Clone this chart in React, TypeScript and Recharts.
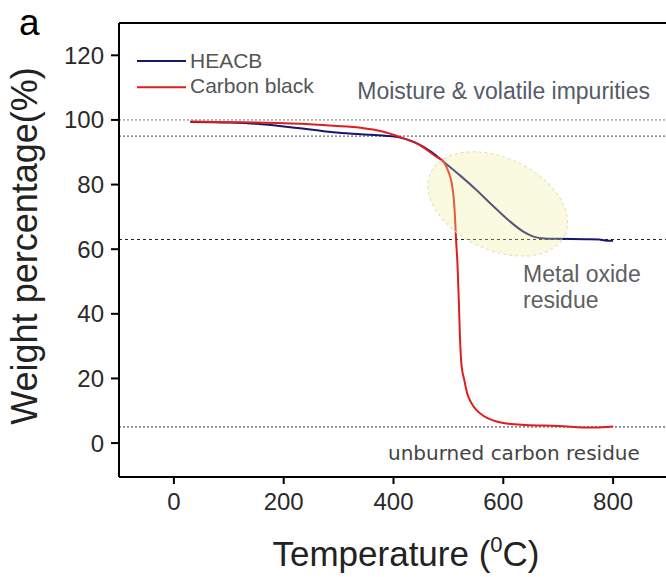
import {
  LineChart,
  Line,
  XAxis,
  YAxis,
  ReferenceLine,
  ReferenceDot,
  Legend,
  Label,
} from "recharts";

// TGA curves, temperature (°C) vs remaining weight (%)
const heacbTemp = [30, 100, 150, 200, 230, 260, 290, 340, 385, 410, 440, 470, 491, 520, 550, 580, 610, 635, 655, 675, 700, 750, 775, 785, 800];
const heacbWeight = [99.4, 99.2, 98.8, 98.0, 97.4, 96.8, 96.2, 95.6, 95.1, 94.6, 93.0, 90.0, 87.1, 83.0, 78.5, 73.6, 68.9, 65.6, 63.9, 63.3, 63.2, 63.1, 63.0, 62.7, 62.6];

const cbTemp = [30, 100, 150, 200, 230, 290, 340, 380, 410, 448, 478, 491, 500, 506, 510, 512, 514, 516.5, 519, 521, 524, 529, 534, 540, 550, 565, 580, 600, 640, 700, 760, 780, 800];
const cbWeight = [99.5, 99.3, 99.2, 99.0, 98.8, 98.2, 97.6, 96.4, 94.8, 92.2, 88.6, 87.1, 84.0, 80.4, 75.2, 70.0, 62.8, 55.6, 44, 33, 24, 19.5, 15.5, 13.0, 10.4, 8.3, 7.1, 6.2, 5.6, 5.3, 4.8, 4.9, 5.1];

const seriesNames = ["HEACB", "Carbon black"];

const xTicks = [0, 200, 400, 600, 800];
const yTicks = [0, 20, 40, 60, 80, 100, 120];

// weight-loss stage levels (%)
const stageLevels = [100, 95, 63, 5];

const heacb = heacbTemp.map((t, i) => ({ t, w: heacbWeight[i] }));
const carbonBlack = cbTemp.map((t, i) => ({ t, w: cbWeight[i] }));

const FONT = "'Liberation Sans', Arial, sans-serif";

const stageStyle = [
  { stroke: "#777", dash: "2 2" },
  { stroke: "#444", dash: "2 2" },
  { stroke: "#222", dash: "3 3" },
  { stroke: "#333", dash: "2 2" },
];

// pale highlight around the oxide burn-off step
const Halo = (p: any) => (
  <ellipse
    cx={p.cx}
    cy={p.cy}
    rx={74}
    ry={46}
    transform={`rotate(25 ${p.cx} ${p.cy})`}
    fill="#eeee99"
    fillOpacity={0.3}
    stroke="#dedeb8"
    strokeDasharray="3 3"
    strokeWidth={1}
  />
);

const note = (lines: string[], opts: { size: number; color: string; family?: string; gap?: number }) =>
  (p: any) => (
    <text x={p.cx} y={p.cy} fill={opts.color} fontSize={opts.size} fontFamily={opts.family ?? FONT}>
      {lines.map((s, i) => (
        <tspan key={i} x={p.cx} dy={i === 0 ? 0 : opts.gap}>
          {s}
        </tspan>
      ))}
    </text>
  );

const LegendBox = ({ payload }: any) => {
  const items = [...(payload || [])].sort(
    (a: any, b: any) => seriesNames.indexOf(a.value) - seriesNames.indexOf(b.value)
  );
  return (
    <svg width={220} height={52}>
      {items.map((e: any, i: number) => (
        <g key={e.value}>
          <line x1={0} x2={49} y1={13 + i * 26.3} y2={13 + i * 26.3} stroke={e.color} strokeWidth={2} />
          <text x={53} y={20.3 + i * 25} fill="#555" fontSize={21} fontFamily={FONT}>
            {e.value}
          </text>
        </g>
      ))}
    </svg>
  );
};

const YTitle = ({ viewBox }: any) => {
  const cx = viewBox.x + 37;
  const cy = viewBox.y + viewBox.height / 2 - 4;
  return (
    <text
      x={cx}
      y={cy}
      transform={`rotate(-90 ${cx} ${cy})`}
      textAnchor="middle"
      fontSize={36}
      fill="#222"
      fontFamily={FONT}
    >
      Weight percentage(%)
    </text>
  );
};

const XTitle = () => (
  <text x={406} y={566} textAnchor="middle" fontSize={35} fill="#222" fontFamily={FONT}>
    Temperature (<tspan dy={-14} fontSize={22}>0</tspan>
    <tspan dy={14}>C)</tspan>
  </text>
);

export default function App() {
  return (
    <div style={{ position: "absolute", left: 0, top: 0, width: 666, height: 577, overflow: "hidden", background: "#fff" }}>
      {/* panel letter */}
      <svg width={60} height={50} style={{ position: "absolute", left: 0, top: 0 }}>
        <text x={19} y={35} fontSize={37} fill="#000" fontFamily={FONT}>
          a
        </text>
      </svg>
      <LineChart width={670} height={577} margin={{ top: 23, right: 2, bottom: 0, left: 0 }}>
        <XAxis
          dataKey="t"
          type="number"
          domain={[-100, 900]}
          ticks={xTicks}
          allowDataOverflow
          height={100}
          tickSize={7}
          tickMargin={9}
          tick={{ fill: "#2a2a2a", fontSize: 24, fontFamily: FONT }}
          tickLine={{ stroke: "#000", strokeWidth: 2 }}
          axisLine={{ stroke: "#000", strokeWidth: 2 }}
        >
          <Label content={<XTitle />} />
        </XAxis>
        <YAxis
          type="number"
          domain={[-10.5, 130]}
          ticks={yTicks}
          allowDataOverflow
          width={119}
          tickSize={8}
          tickMargin={7}
          tick={{ fill: "#2a2a2a", fontSize: 24, fontFamily: FONT }}
          tickLine={{ stroke: "#000", strokeWidth: 2 }}
          axisLine={{ stroke: "#000", strokeWidth: 2 }}
        >
          <Label content={<YTitle />} />
        </YAxis>
        <ReferenceLine y={130} stroke="#000" strokeWidth={2} />
        {stageLevels.map((v, i) => (
          <ReferenceLine
            key={v}
            y={v}
            stroke={stageStyle[i].stroke}
            strokeDasharray={stageStyle[i].dash}
            strokeWidth={1}
          />
        ))}
        <Line
          data={heacb}
          dataKey="w"
          name={seriesNames[0]}
          type="monotone"
          stroke="#17176e"
          strokeWidth={2}
          dot={false}
          isAnimationActive={false}
        />
        <Line
          data={carbonBlack}
          dataKey="w"
          name={seriesNames[1]}
          type="monotone"
          stroke="#e01c1c"
          strokeWidth={2}
          dot={false}
          isAnimationActive={false}
        />
        <ReferenceDot x={590} y={74} r={0} shape={Halo} ifOverflow="visible" />
        <ReferenceDot
          x={334}
          y={106.5}
          r={0}
          ifOverflow="visible"
          shape={note(["Moisture & volatile impurities"], { size: 23, color: "#555b6a" })}
        />
        <ReferenceDot
          x={636}
          y={50}
          r={0}
          ifOverflow="visible"
          shape={note(["Metal oxide", "residue"], { size: 23, color: "#606060", gap: 26 })}
        />
        <ReferenceDot
          x={390}
          y={-5.3}
          r={0}
          ifOverflow="visible"
          shape={note(["unburned carbon residue"], {
            size: 20,
            color: "#444",
            family: "'DejaVu Sans', Verdana, sans-serif",
          })}
        />
        <Legend
          layout="horizontal"
          verticalAlign="middle"
          align="center"
          content={<LegendBox />}
          wrapperStyle={{ position: "absolute", left: 137, top: 48, width: 220, height: 52 }}
        />
      </LineChart>
    </div>
  );
}
